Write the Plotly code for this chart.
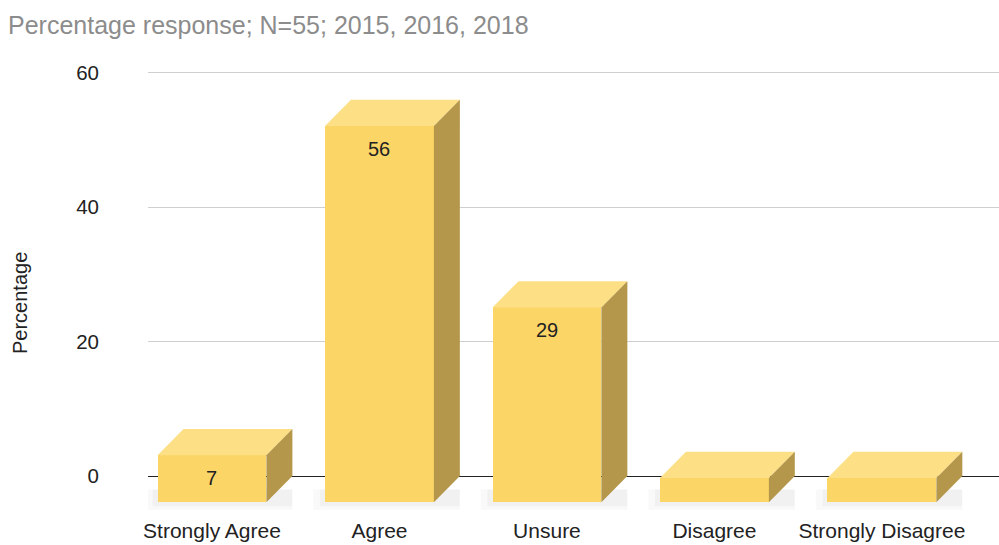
import plotly.graph_objects as go

# Survey responses (percent of 55 respondents)
categories = ["Strongly Agree", "Agree", "Unsure", "Disagree", "Strongly Disagree"]
percentages = [7, 56, 29, 3.6, 3.6]
shown_labels = ["7", "56", "29", "", ""]
y_ticks = [0, 20, 40, 60]

# 3-D box styling
BAR_W = 0.65        # front face width, in category units
DEPTH_X = 0.155     # receding offset, category units
DEPTH_Y = 3.9       # receding offset, value units
FRONT = "#FBD565"
TOP = "#FDE085"
SIDE = "#B5974B"

xs = list(range(len(categories)))
fig = go.Figure()

# soft floor shadow under each box (kept beneath the traces), two layers
for i, v in zip(xs, percentages):
    l, r = i - BAR_W / 2, i + BAR_W / 2
    for pad, alpha in ((0.07, 0.025), (0.03, 0.03)):
        fig.add_shape(type="path", layer="below", line=dict(width=0),
                      fillcolor=f"rgba(0,0,0,{alpha})",
                      path=(f"M{l - pad},{-DEPTH_Y - 20 * pad} "
                            f"L{r + DEPTH_X},{-DEPTH_Y - 20 * pad} "
                            f"L{r + DEPTH_X},{-2.0} L{l - pad},{-2.0} Z"))

# front faces
fig.add_trace(go.Bar(
    x=xs, y=percentages, base=[-DEPTH_Y] * len(xs), width=BAR_W,
    marker=dict(color=FRONT, line=dict(width=0)),
    hovertemplate="%{customdata}: %{y}<extra></extra>", customdata=categories,
    showlegend=False))

# top and side faces
for i, v in zip(xs, percentages):
    l, r = i - BAR_W / 2, i + BAR_W / 2
    fig.add_trace(go.Scatter(
        x=[l, r, r + DEPTH_X, l + DEPTH_X, l],
        y=[v - DEPTH_Y, v - DEPTH_Y, v, v, v - DEPTH_Y],
        mode="lines", fill="toself", fillcolor=TOP, line=dict(width=0),
        hoverinfo="skip", showlegend=False))
    fig.add_trace(go.Scatter(
        x=[r, r + DEPTH_X, r + DEPTH_X, r, r],
        y=[-DEPTH_Y, 0, v, v - DEPTH_Y, -DEPTH_Y],
        mode="lines", fill="toself", fillcolor=SIDE, line=dict(width=0),
        hoverinfo="skip", showlegend=False))

# value labels just inside the top of the front face
for i, v, t in zip(xs, percentages, shown_labels):
    if t:
        fig.add_annotation(x=i, y=v - DEPTH_Y, text=t, showarrow=False,
                           yanchor="middle", yshift=-23,
                           font=dict(size=20, color="#222222"))

fig.add_annotation(text="Percentage", textangle=-90, showarrow=False,
                   xref="paper", yref="paper", x=0, y=0.46,
                   xanchor="center", yanchor="middle", xshift=-128,
                   font=dict(size=20, color="#222222"))

fig.update_layout(
    width=999, height=545,
    margin=dict(l=148, r=0, t=60, b=35),
    paper_bgcolor="white", plot_bgcolor="white",
    font=dict(family="Liberation Sans, Arial, sans-serif", color="#222222"),
    title=dict(text="Percentage response; N=55; 2015, 2016, 2018",
               x=8 / 999, xref="container", xanchor="left",
               y=1 - 25 / 545, yref="container", yanchor="middle",
               font=dict(size=25, color="#8c8c8c")),
    xaxis=dict(range=[-0.382, 4.699], tickvals=xs, ticktext=categories,
               showgrid=False, zeroline=False, showline=False, ticks="",
               tickfont=dict(size=21, color="#222222"),
               ticklabelstandoff=6, fixedrange=True, automargin=False),
    yaxis=dict(range=[-5.06, 61.93], tickvals=y_ticks,
               showgrid=True, gridcolor="#cfcfcf", gridwidth=1,
               zeroline=True, zerolinecolor="#222222", zerolinewidth=1,
               showline=False, ticks="",
               tickfont=dict(size=20.5, color="#222222"),
               ticklabelstandoff=48, fixedrange=True, automargin=False),
    bargap=0,
)

fig.write_html("out.html")
